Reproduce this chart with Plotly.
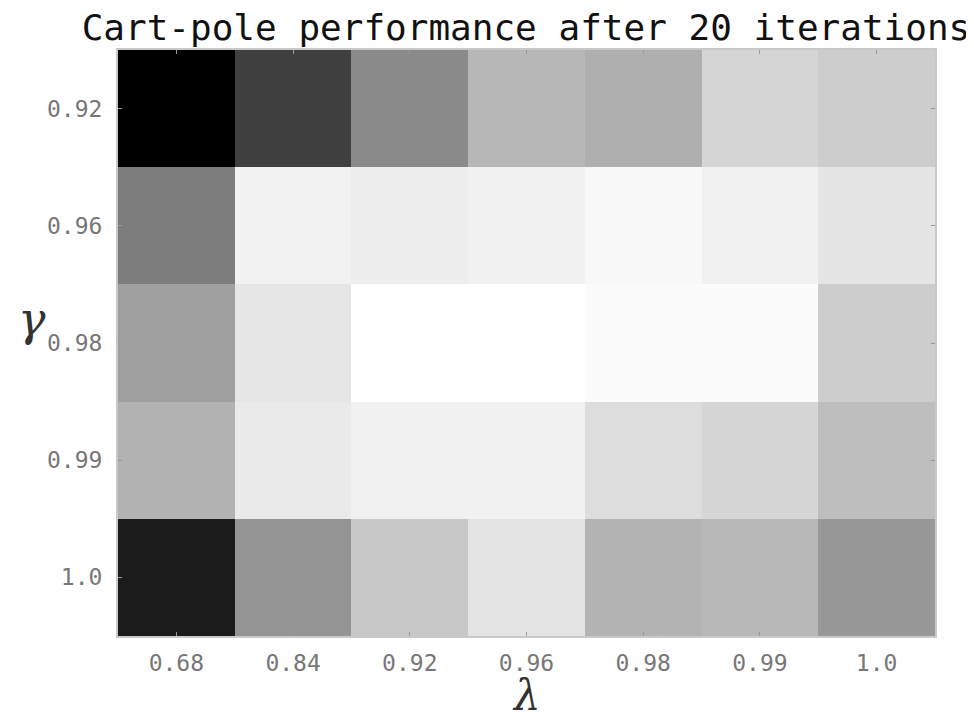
import plotly.graph_objects as go

lambdas = ["0.68", "0.84", "0.92", "0.96", "0.98", "0.99", "1.0"]
gammas = ["0.92", "0.96", "0.98", "0.99", "1.0"]

# performance (relative, shown as grey level 0 = worst / black, 255 = best / white)
perf_g092 = [0, 64, 138, 183, 175, 213, 205]
perf_g096 = [125, 242, 237, 241, 248, 241, 229]
perf_g098 = [160, 230, 255, 255, 251, 251, 205]
perf_g099 = [178, 234, 241, 241, 221, 214, 190]
perf_g100 = [27, 148, 200, 228, 179, 184, 152]

z = [perf_g092, perf_g096, perf_g098, perf_g099, perf_g100]

fig = go.Figure(
    go.Heatmap(
        x=lambdas,
        y=gammas,
        z=z,
        zmin=0,
        zmax=255,
        colorscale=[[0, "rgb(0,0,0)"], [1, "rgb(255,255,255)"]],
        showscale=False,
        xgap=0,
        ygap=0,
        hovertemplate="λ=%{x}<br>γ=%{y}<br>%{z}<extra></extra>",
    )
)

tickfont = dict(family="DejaVu Sans Mono", size=23, color="#777777")

fig.update_layout(
    width=966,
    height=714,
    margin=dict(l=110, r=39, t=42, b=86, autoexpand=False),
    paper_bgcolor="white",
    plot_bgcolor="white",
    title=dict(
        text="Cart-pole performance after 20 iterations",
        font=dict(family="DejaVu Sans Mono", size=36, color="#111111"),
        x=0.5362,
        xanchor="center",
        y=0.9724,
        yanchor="middle",
    ),
    xaxis=dict(
        type="category",
        categoryorder="array",
        categoryarray=lambdas,
        showgrid=False,
        zeroline=False,
        showline=True,
        linecolor="#c8c8c8",
        linewidth=2,
        mirror="ticks",
        ticks="inside",
        ticklen=4,
        tickcolor="#999999",
        tickfont=tickfont,
        ticklabelstandoff=5,
        automargin=False,
    ),
    yaxis=dict(
        type="category",
        categoryorder="array",
        categoryarray=gammas,
        autorange="reversed",
        showgrid=False,
        zeroline=False,
        showline=True,
        linecolor="#c8c8c8",
        linewidth=2,
        mirror="ticks",
        ticks="inside",
        ticklen=4,
        tickcolor="#999999",
        tickfont=tickfont,
        ticklabelstandoff=9,
        automargin=False,
    ),
    annotations=[
        dict(
            text="<i>λ</i>",
            xref="paper",
            yref="paper",
            x=0.5,
            y=-0.056,
            xanchor="center",
            yanchor="top",
            showarrow=False,
            font=dict(family="DejaVu Serif", size=42, color="#333333"),
        ),
        dict(
            text="<i>γ</i>",
            xref="paper",
            x=-0.105,
            xanchor="center",
            yref="y",
            y=2,
            yshift=24,
            yanchor="middle",
            showarrow=False,
            font=dict(family="DejaVu Serif", size=46, color="#333333"),
        ),
    ],
)

fig.write_html("out.html")
